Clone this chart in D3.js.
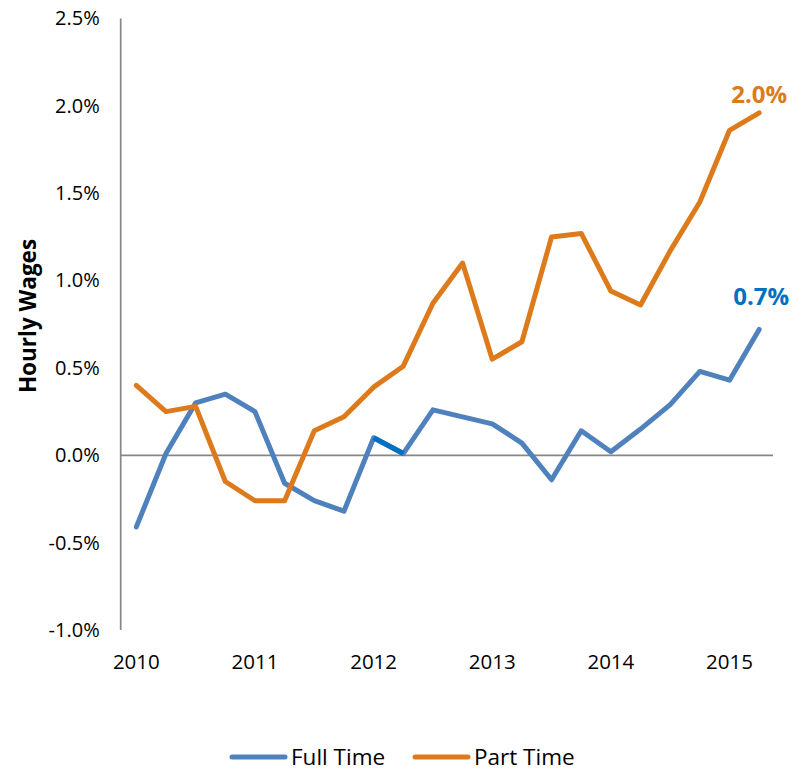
<!DOCTYPE html>
<html>
<head>
<meta charset="utf-8">
<script src="https://cdn.jsdelivr.net/npm/d3@7"></script>
<style>
  body { margin: 0; background: #fff; }
  text { font-family: "Open Sans", sans-serif; }
</style>
</head>
<body>
<svg id="chart" width="806" height="771"></svg>
<script>
// quarterly categories, labels only shown on Q1
const quarters = ["2010Q1","2010Q2","2010Q3","2010Q4","2011Q1","2011Q2","2011Q3","2011Q4",
                  "2012Q1","2012Q2","2012Q3","2012Q4","2013Q1","2013Q2","2013Q3","2013Q4",
                  "2014Q1","2014Q2","2014Q3","2014Q4","2015Q1","2015Q2"];
const yearLabels = ["2010","2011","2012","2013","2014","2015"];
const yearQuarters = ["2010Q1","2011Q1","2012Q1","2013Q1","2014Q1","2015Q1"];

// percent change in hourly wages
const fullTime = [-0.41, 0.01, 0.30, 0.35, 0.25, -0.16, -0.26, -0.32, 0.10, 0.01, 0.26, 0.22,
                  0.18, 0.07, -0.14, 0.14, 0.02, 0.15, 0.29, 0.48, 0.43, 0.72];
const partTime = [0.40, 0.25, 0.28, -0.15, -0.26, -0.26, 0.14, 0.22, 0.39, 0.51, 0.87, 1.10,
                  0.55, 0.65, 1.25, 1.27, 0.94, 0.86, 1.17, 1.45, 1.86, 1.96];
// segment of the full time line drawn in a darker blue
const highlightQuarters = ["2012Q1", "2012Q2"];

const yTicks = [-1.0, -0.5, 0.0, 0.5, 1.0, 1.5, 2.0, 2.5];
const seriesNames = ["Full Time", "Part Time"];
const blue = "#4f81bd", darkBlue = "#0070c0", orange = "#dd7b1c";

let svg = d3.select("#chart");

let x = d3.scaleBand().domain(quarters).range([121.5, 774]);
let xc = q => x(q) + x.bandwidth() / 2;
let y = d3.scaleLinear().domain([-1, 2.5]).range([630, 18.5]);

// y axis (labels only), plain hyphen for negatives
svg.append("g")
    .attr("transform", "translate(120.7,0)")
    .call(d3.axisLeft(y).tickValues(yTicks).tickSize(0).tickPadding(21)
        .tickFormat(d => d.toFixed(1) + "%"))
    .call(g => g.select(".domain").remove())
    .selectAll("text")
    .attr("font-size", "20px").attr("fill", "#000")
    .attr("font-family", "Open Sans, sans-serif");

svg.append("line")
    .attr("x1", 120.7).attr("x2", 120.7)
    .attr("y1", y(2.5)).attr("y2", y(-1))
    .attr("stroke", "#868686").attr("stroke-width", 1.7);

// zero line / category axis
svg.append("line")
    .attr("x1", 120.7).attr("x2", 773)
    .attr("y1", y(0)).attr("y2", y(0))
    .attr("stroke", "#868686").attr("stroke-width", 1.7);

svg.append("g").selectAll("text")
    .data(yearLabels)
    .enter().append("text")
    .attr("x", (d, i) => xc(yearQuarters[i]))
    .attr("y", 669)
    .attr("text-anchor", "middle")
    .attr("font-size", "20.5px")
    .text(d => d);

// y axis title
svg.append("text")
    .attr("transform", "translate(36,316) rotate(-90)")
    .attr("text-anchor", "middle")
    .attr("font-size", "22.5px").attr("font-weight", "bold")
    .text("Hourly Wages");

let line = d3.line().x((d, i) => xc(quarters[i])).y(d => y(d));

function drawLine(values, color) {
    svg.append("path")
        .datum(values)
        .attr("fill", "none")
        .attr("stroke", color)
        .attr("stroke-width", 5)
        .attr("stroke-linejoin", "round")
        .attr("stroke-linecap", "round")
        .attr("d", line);
}

drawLine(fullTime, blue);

// darker segment
let hi = highlightQuarters.map(q => quarters.indexOf(q));
svg.append("path")
    .datum(hi)
    .attr("fill", "none")
    .attr("stroke", darkBlue)
    .attr("stroke-width", 5)
    .attr("d", d3.line().x(i => xc(quarters[i])).y(i => y(fullTime[i])));

drawLine(partTime, orange);

// end labels
let last = quarters.length - 1;
svg.append("text")
    .attr("x", xc(quarters[last])).attr("y", 103)
    .attr("text-anchor", "middle")
    .attr("font-size", "24px").attr("font-weight", "bold")
    .attr("fill", orange)
    .text(partTime[last].toFixed(1) + "%");
svg.append("text")
    .attr("x", xc(quarters[last]) + 2).attr("y", 305)
    .attr("text-anchor", "middle")
    .attr("font-size", "24px").attr("font-weight", "bold")
    .attr("fill", darkBlue)
    .text(fullTime[last].toFixed(1) + "%");

// legend
let legend = svg.append("g");
let legendX = [232, 415];
[blue, orange].forEach((c, i) => {
    legend.append("line")
        .attr("x1", legendX[i]).attr("x2", legendX[i] + 53)
        .attr("y1", 757).attr("y2", 757)
        .attr("stroke", c).attr("stroke-width", 5)
        .attr("stroke-linecap", "round");
    legend.append("text")
        .attr("x", legendX[i] + 59).attr("y", 765)
        .attr("font-size", "22.5px")
        .text(seriesNames[i]);
});
</script>
</body>
</html>
